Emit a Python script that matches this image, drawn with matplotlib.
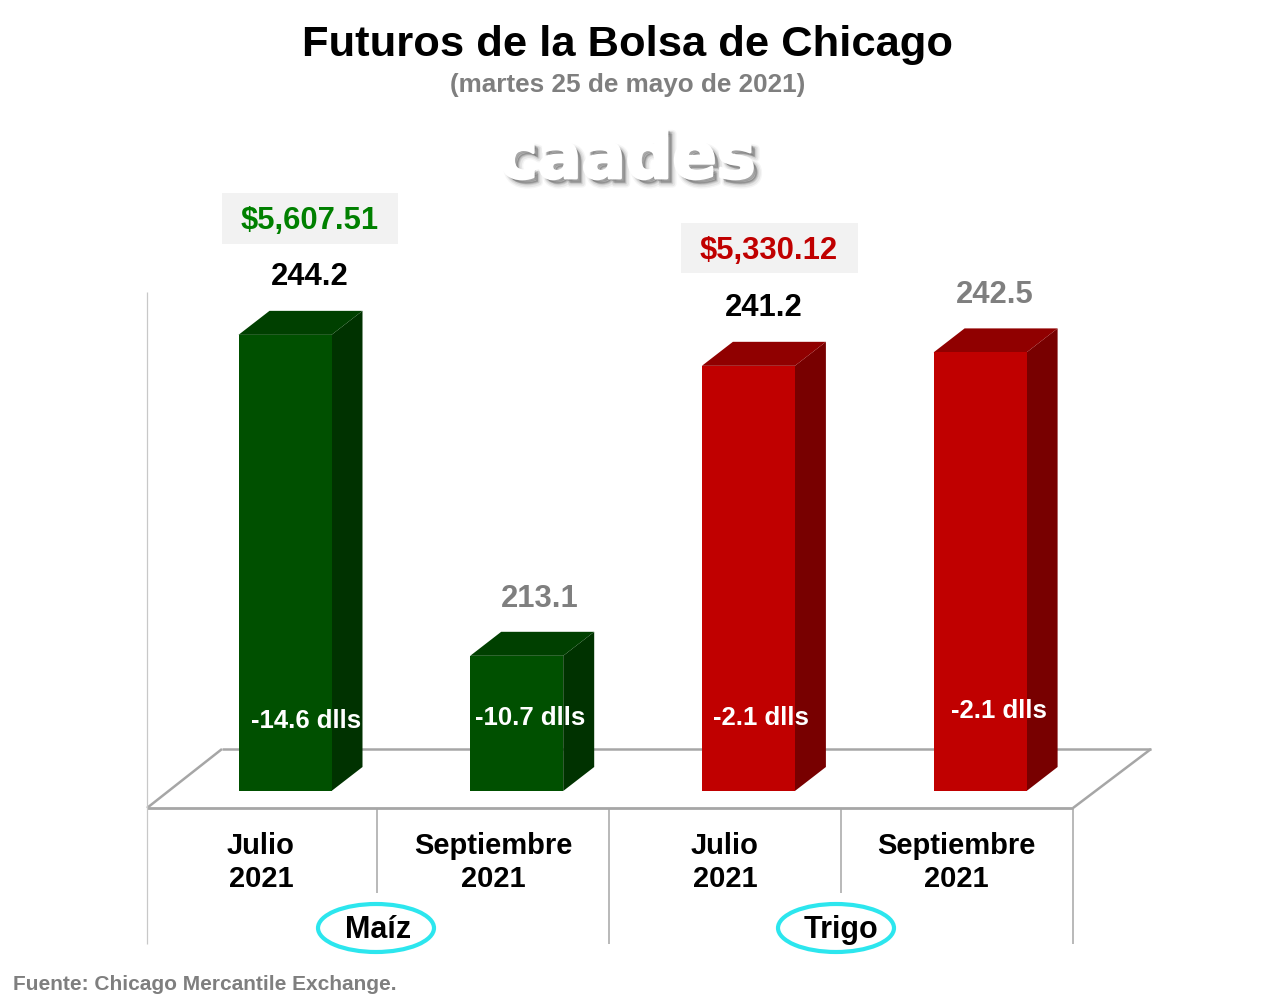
import matplotlib
matplotlib.use("Agg")
import matplotlib.pyplot as plt
import matplotlib.patheffects as pe
from matplotlib.patches import Polygon, Ellipse, Rectangle

# ---- data ----
contracts = ["Julio\n2021", "Septiembre\n2021", "Julio\n2021", "Septiembre\n2021"]
values = [244.2, 213.1, 241.2, 242.5]
value_labels = ["244.2", "213.1", "241.2", "242.5"]
changes = ["-14.6 dlls", "-10.7 dlls", "-2.1 dlls", "-2.1 dlls"]
crops = ["Maíz", "Trigo"]
totals = ["$5,607.51", "$5,330.12"]
front_colors = ["#005000", "#005000", "#C00000", "#C00000"]
side_colors = ["#003200", "#003200", "#780000", "#780000"]
top_colors = ["#004000", "#004000", "#900000", "#900000"]
label_colors = ["#000000", "#7F7F7F", "#000000", "#7F7F7F"]
title = "Futuros de la Bolsa de Chicago"
subtitle = "(martes 25 de mayo de 2021)"
source = "Fuente: Chicago Mercantile Exchange."

W, H = 1280, 1008
plt.rcParams["font.family"] = ["Liberation Sans", "DejaVu Sans"]
plt.rcParams["font.weight"] = "bold"
fig = plt.figure(figsize=(W / 100, H / 100), dpi=100, facecolor="white")
ax = fig.add_axes([0, 0, 1, 1])
ax.axis("off")

# scale: one category = 231.7 px, one unit = 10.32 px; category 0 at x=285, value 200 at y=791
PX_CAT, PX_UNIT = 231.7, 10.32
ax.set_xlim(-285 / PX_CAT, (W - 285) / PX_CAT)
ax.set_ylim(200 - (H - 791) / PX_UNIT, 200 + 791 / PX_UNIT)
BASE = 200


def X(px):
    return (px - 285) / PX_CAT


def Y(py):
    return 200 + (791 - py) / PX_UNIT


def T(px, py, s, **kw):
    kw.setdefault("ha", "center")
    kw.setdefault("va", "center")
    kw.setdefault("fontweight", "bold")
    return ax.text(X(px), Y(py), s, **kw)


GRID = "#A6A6A6"
def L(x0, y0, x1, y1, lw=1.6, c=GRID):
    ax.plot([X(x0), X(x1)], [Y(y0), Y(y1)], color=c, lw=lw, solid_capstyle="butt", zorder=1)

# floor and axis lines
L(147, 808, 1073, 808, 2.0)
L(147, 808, 222, 749, 1.8)
L(222, 749, 1151, 749, 1.8)
L(1151, 749, 1073, 808, 1.8)
L(146.5, 292, 146.5, 944, 0.9, "#C8C8C8")
L(377, 808, 377, 893, 1.1)
L(609, 808, 609, 944, 1.1)
L(841, 808, 841, 893, 1.1)
L(1073, 808, 1073, 944, 1.1)

# 3-D bars
bar_w = 93 / PX_CAT
dx = 31 / PX_CAT
dy = 24 / PX_UNIT
for i, v in enumerate(values):
    l, r = i - bar_w / 2, i + bar_w / 2
    ax.add_patch(Polygon([(r, BASE), (r + dx, BASE + dy), (r + dx, v + dy), (r, v)],
                         fc=side_colors[i], ec="none", zorder=2))
    ax.add_patch(Polygon([(l, v), (r, v), (r + dx, v + dy), (l + dx, v + dy)],
                         fc=top_colors[i], ec="none", zorder=2))
    ax.bar(i, v - BASE, bottom=BASE, width=bar_w, color=front_colors[i], zorder=3)

# title block
T(628, 45, title, fontsize=31.3, color="black")
T(628, 85, subtitle, fontsize=18.8, color="#7F7F7F")

# logo: white lettering lifted by a soft shadow
logo = T(627, 160, "caades", fontsize=47, color="white", family="DejaVu Sans", zorder=6)
shadow = []
for off, lw, a in ((4, 6, .04), (4, 4, .06), (3.5, 2.5, .08), (3, 1, .1), (2, 0.5, .1)):
    shadow.append(pe.SimpleLineShadow(offset=(off, -off), shadow_color="black", alpha=a, linewidth=lw))
    shadow.append(pe.withSimplePatchShadow(offset=(off, -off), shadow_rgbFace="black", alpha=a))
logo.set_path_effects(shadow + [pe.Stroke(linewidth=2, foreground="white"), pe.Normal()])

# totals
ax.add_patch(Rectangle((X(222), Y(244)), 176 / PX_CAT, 51 / PX_UNIT, fc="#F2F2F2", ec="none"))
ax.add_patch(Rectangle((X(681), Y(273)), 177 / PX_CAT, 50 / PX_UNIT, fc="#F2F2F2", ec="none"))
T(310, 221.5, totals[0], fontsize=22.3, color="#008000")
T(769, 251, totals[1], fontsize=22.3, color="#C00000")

# values above bars
for px, py, s, c in zip((310, 540, 764, 995), (277, 599, 308, 295), value_labels, label_colors):
    T(px, py, s, fontsize=22.3, color=c)

# change labels
for px, py, s in zip((306, 530, 761, 999), (721, 718, 718, 711), changes):
    T(px, py, s, fontsize=18.5, color="white", zorder=5)

# category labels
for px, s in zip((261, 493, 725, 956), contracts):
    a, b = s.split("\n")
    T(px, 846, a, fontsize=21, color="black")
    T(px, 879, b, fontsize=21, color="black")

# crop labels with ellipses
for cx, tx, s in zip((376, 836), (378, 841), crops):
    ax.add_patch(Ellipse((X(cx), Y(928)), 116 / PX_CAT, 48 / PX_UNIT,
                         fc="white", ec="#2CE6EE", lw=3, zorder=4))
    T(tx, 930, s, fontsize=22, color="black", zorder=5)

# source
T(13, 984, source, fontsize=15, color="#7F7F7F", ha="left")

fig.savefig("out.png", dpi=100, facecolor="white")
